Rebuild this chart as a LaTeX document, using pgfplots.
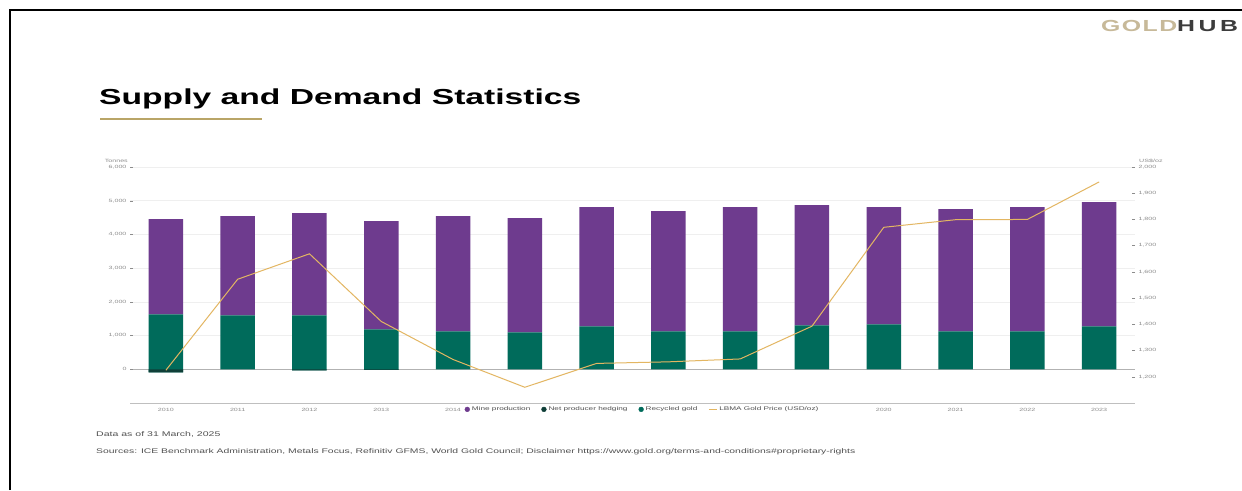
\documentclass[border=0pt]{standalone}
\usepackage{fontspec}
\setmainfont{Liberation Sans}[FakeStretch=1.55]
\usepackage{pgfplots}
\pgfplotsset{compat=1.18}
\definecolor{mpurple}{HTML}{6E3B8E}
\definecolor{mgreen}{HTML}{006B5B}
\definecolor{hedge}{HTML}{0F3F38}
\definecolor{goldline}{HTML}{E3B662}
\definecolor{tickgrey}{HTML}{8C8C8C}
\definecolor{gridgrey}{HTML}{EFEFEF}
\definecolor{goldtan}{HTML}{C7B999}
\definecolor{hubgrey}{HTML}{3C3C3C}
\definecolor{rulegold}{HTML}{B9A567}
\definecolor{footgrey}{HTML}{505050}
\begin{document}
\begin{tikzpicture}[x=1pt,y=1pt]
\useasboundingbox (0,0) rectangle (1242,-490);
\fill[white] (0,0) rectangle (1242,-490);
\draw[black,line width=2pt] (10,-490) -- (10,-10) -- (1242,-10);
\node[anchor=base west,inner sep=0] at (99,-104) {\fontsize{21.7}{22}\selectfont\bfseries Supply and Demand Statistics};
\draw[rulegold,line width=1.5pt] (100,-119) -- (262,-119);
\node[anchor=base west,inner sep=0] at (1101,-31) {\fontsize{16}{16}\selectfont\bfseries{\addfontfeature{LetterSpace=9}\textcolor{goldtan}{GOLD}}{\addfontfeature{LetterSpace=22}\textcolor{hubgrey}{HUB}}};
\node[anchor=base west,inner sep=0,text=footgrey] at (96,-436) {\fontsize{6.8}{7}\selectfont Data as of 31 March, 2025};
\node[anchor=base west,inner sep=0,text=footgrey] at (96,-453) {\fontsize{6.7}{7}\selectfont Sources: ICE Benchmark Administration, Metals Focus, Refinitiv GFMS, World Gold Council; Disclaimer https://www.gold.org/terms-and-conditions\#proprietary-rights};

\begin{axis}[at={(130pt,-403pt)}, anchor=south west, scale only axis,
  width=1005pt, height=236pt,
  xmin=-0.5, xmax=13.5, ymin=-1000, ymax=6000,
  ybar stacked, stack negative=on previous, bar width=34.5pt,
  xtick={0,1,2,3,4,5,6,7,8,9,10,11,12,13},
  xticklabels={2010,2011,2012,2013,2014,,,,,,2020,2021,2022,2023},
  ytick={0,1000,2000,3000,4000,5000,6000},
  ymajorgrids, grid style={gridgrey,line width=0.5pt},
  extra y ticks={0}, extra y tick labels={},
  extra y tick style={grid style={black!30,line width=0.6pt}},
  axis x line*=bottom, axis y line*=left,
  y axis line style={draw=none},
  x axis line style={draw=black!25,line width=0.7pt,-},
  xtick style={draw=none},
  ytick style={draw=tickgrey,line width=0.4pt},
  major tick length=3pt,
  ticklabel style={font=\fontsize{4.6}{5}\selectfont, text=tickgrey},
  xticklabel style={yshift=-2pt},
  /pgf/number format/assume math mode=true,
  /pgf/number format/1000 sep={,},
  clip=false]
\addplot[fill=hedge, draw=none] coordinates {(0,-90) (1,0) (2,-30) (3,-20) (4,0) (5,0) (6,0) (7,0) (8,0) (9,0) (10,0) (11,0) (12,0) (13,0)};
\addplot[fill=mgreen, draw=none] coordinates {(0,1722) (1,1602) (2,1632) (3,1207) (4,1128) (5,1098) (6,1276) (7,1128) (8,1128) (9,1306) (10,1335) (11,1128) (12,1128) (13,1276)};
\addplot[fill=mpurple, draw=none] coordinates {(0,2819) (1,2938) (2,3027) (3,3205) (4,3412) (5,3383) (6,3531) (7,3560) (8,3679) (9,3560) (10,3472) (11,3620) (12,3679) (13,3679)};
\node[anchor=base east,inner sep=0,text=tickgrey,font=\fontsize{4.6}{5}\selectfont] at (rel axis cs:-0.002,1.018) {Tonnes};
\end{axis}

\begin{axis}[at={(130pt,-403pt)}, anchor=south west, scale only axis,
  width=1005pt, height=236pt,
  xmin=-0.5, xmax=13.5, ymin=1100, ymax=2000,
  axis x line=none, axis y line*=right,
  y axis line style={draw=none},
  ytick={1200,1300,1400,1500,1600,1700,1800,1900,2000},
  ytick style={draw=tickgrey,line width=0.4pt},
  major tick length=3pt,
  ticklabel style={font=\fontsize{4.6}{5}\selectfont, text=tickgrey},
  /pgf/number format/assume math mode=true,
  /pgf/number format/1000 sep={,},
  legend style={at={(0.51,-0.027)}, anchor=center, legend columns=4,
    draw=none, fill=white, inner sep=1pt,
    font=\fontsize{5.3}{6}\selectfont, text=footgrey,
    /tikz/every even column/.append style={column sep=9pt}},
  legend cell align=left,
  clip=false]
\addlegendimage{legend image code/.code={\fill[mpurple] (3pt,0pt) circle (2.4pt);}}
\addlegendentry{Mine production}
\addlegendimage{legend image code/.code={\fill[hedge] (3pt,0pt) circle (2.4pt);}}
\addlegendentry{Net producer hedging}
\addlegendimage{legend image code/.code={\fill[mgreen] (3pt,0pt) circle (2.4pt);}}
\addlegendentry{Recycled gold}
\addplot[goldline, line width=1pt, mark=none,
  legend image code/.code={\draw[goldline,line width=1pt] (0pt,0pt) -- (8pt,0pt);}]
  coordinates {(0,1225) (1,1572) (2,1669) (3,1411) (4,1266) (5,1160) (6,1251) (7,1257) (8,1268) (9,1393) (10,1770) (11,1799) (12,1800) (13,1943)};
\addlegendentry{LBMA Gold Price (USD/oz)}
\node[anchor=base west,inner sep=0,text=tickgrey,font=\fontsize{4.6}{5}\selectfont] at (rel axis cs:1.004,1.018) {US\$/oz};
\end{axis}
\end{tikzpicture}
\end{document}
